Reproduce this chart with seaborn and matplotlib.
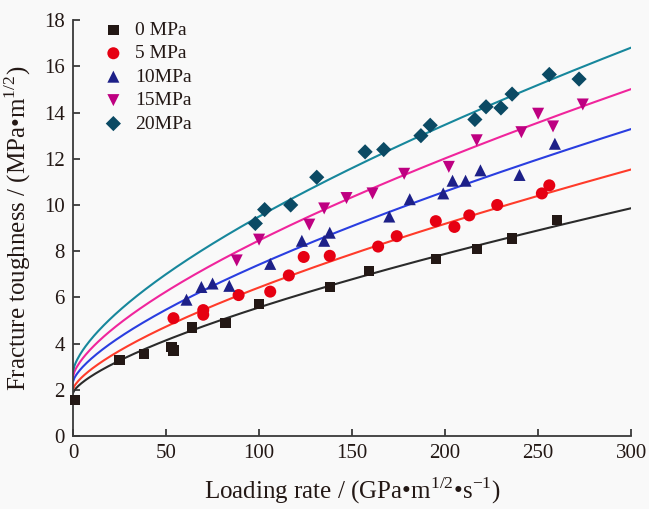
import numpy as np
import pandas as pd
import seaborn as sns
import matplotlib.pyplot as plt

# measured points, one pair of lists per confining pressure
x_0 = [1, 25, 38, 53, 54, 64, 82, 100, 138, 159, 195, 217, 236, 260]
y_0 = [1.55, 3.3, 3.55, 3.85, 3.7, 4.7, 4.9, 5.7, 6.45, 7.15, 7.65, 8.1, 8.55, 9.35]

x_5 = [54, 70, 70, 89, 106, 116, 124, 138, 164, 174, 195, 205, 213, 228, 252, 256]
y_5 = [5.1, 5.45, 5.25, 6.1, 6.25, 6.95, 7.75, 7.8, 8.2, 8.65, 9.3, 9.05, 9.55, 10.0, 10.5, 10.85]

x_10 = [61, 69, 75, 84, 106, 123, 135, 138, 170, 181, 199, 204, 211, 219, 240, 259]
y_10 = [5.9, 6.45, 6.6, 6.5, 7.45, 8.45, 8.45, 8.8, 9.5, 10.25, 10.5, 11.05, 11.05, 11.5, 11.3, 12.65]

x_15 = [88, 100, 127, 135, 147, 161, 178, 202, 217, 241, 250, 258, 274]
y_15 = [7.6, 8.5, 9.15, 9.85, 10.3, 10.5, 11.35, 11.65, 12.8, 13.15, 13.95, 13.4, 14.35]

x_20 = [98, 103, 117, 131, 157, 167, 187, 192, 216, 222, 230, 236, 256, 272]
y_20 = [9.2, 9.8, 10.0, 11.2, 12.3, 12.4, 13.0, 13.45, 13.7, 14.25, 14.2, 14.8, 15.65, 15.45]

labels = ['0 MPa', '5 MPa', '10MPa', '15MPa', '20MPa']

# fitted curves K = a + b * v^c
fit_a = [1.86, 2.02, 2.35, 2.57, 2.78]
fit_b = [0.1476, 0.1756, 0.2018, 0.2574, 0.3072]
fit_c = [0.70, 0.70, 0.70, 0.68, 0.67]

marker_colors = ['#231815', '#e60012', '#1d2088', '#be0081', '#0b4a64']
line_colors = ['#2b2b2b', '#ff3b2a', '#2a3ee0', '#f0259c', '#17879c']
markers = ['s', 'o', '^', 'v', 'D']
sizes = [55, 75, 75, 75, 60]


def main():
    sns.set_style('ticks')
    plt.rcParams['font.family'] = ['Liberation Serif', 'DejaVu Serif']
    plt.rcParams['mathtext.fontset'] = 'custom'
    plt.rcParams['mathtext.rm'] = 'Liberation Serif'

    xs = [x_0, x_5, x_10, x_15, x_20]
    ys = [y_0, y_5, y_10, y_15, y_20]
    df = pd.concat([pd.DataFrame({'rate': x, 'K': y, 'Pressure': lab})
                    for x, y, lab in zip(xs, ys, labels)], ignore_index=True)

    fig = plt.figure(figsize=(6.49, 5.09), dpi=100, facecolor='#f9f9f9')
    ax = fig.add_axes([0.1125, 0.1434, 0.86, 0.817])
    ax.set_facecolor('#f9f9f9')

    grid = np.linspace(0, 300, 400)
    for a, b, c, col in zip(fit_a, fit_b, fit_c, line_colors):
        sns.lineplot(x=grid, y=a + b * grid ** c, color=col, linewidth=1.5,
                     ax=ax, legend=False)

    for lab, m, mc, s in zip(labels, markers, marker_colors, sizes):
        sub = df[df['Pressure'] == lab]
        sns.scatterplot(data=sub, x='rate', y='K', marker=m, color=mc, s=s,
                        edgecolor='none', ax=ax, label=lab, zorder=3,
                        clip_on=False)

    handles, labs = ax.get_legend_handles_labels()
    ax.legend(handles[-5:], labs[-5:], frameon=False, loc='upper left',
              bbox_to_anchor=(0.027, 1.03), fontsize=14, handlelength=1.2,
              handletextpad=0.53, labelspacing=0.3, borderaxespad=0.3,
              labelcolor='#231815')

    ax.set_xlim(0, 300)
    ax.set_ylim(0, 18)
    ax.set_xticks(range(0, 301, 50))
    ax.set_yticks(range(0, 19, 2))
    sns.despine(ax=ax)
    for sp in ['left', 'bottom']:
        ax.spines[sp].set_color('#3a3a3a')
        ax.spines[sp].set_linewidth(1.3)
    ax.tick_params(direction='in', length=5, width=1.3, color='#3a3a3a',
                   labelsize=15, labelcolor='#231815', pad=6)

    ax.set_xlabel(r'Loading rate / (GPa•m$^{\mathrm{1/2}}$•s$^{\mathrm{-1}}$)',
                  fontsize=18, color='#231815', labelpad=9)
    ax.set_ylabel(r'Fracture toughness / (MPa•m$^{\mathrm{1/2}}$)',
                  fontsize=18, color='#231815', labelpad=8)

    fig.savefig('out.png', dpi=100, facecolor=fig.get_facecolor())
    plt.close(fig)


if __name__ == '__main__':
    main()
